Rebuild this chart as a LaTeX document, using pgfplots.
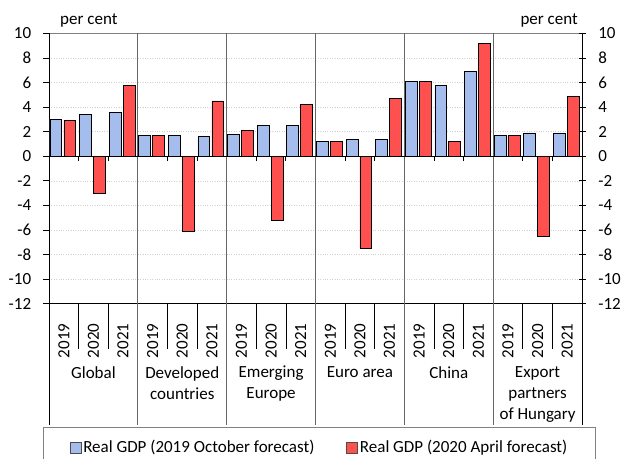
\documentclass[border=0pt]{standalone}
\usepackage{fontspec}
\setmainfont{Carlito}
\usepackage{pgfplots}
\usepackage{pgfplotstable}
\pgfplotsset{compat=1.18}

\definecolor{octfc}{HTML}{A4BDEC}
\definecolor{aprfc}{HTML}{FF5050}
\definecolor{framegray}{HTML}{808080}

% slot: 0-2 Global, 3-5 Developed, 6-8 Emerging Europe,
% 9-11 Euro area, 12-14 China, 15-17 Export partners (years 2019-2021)
\pgfplotstableread{
x  oct  apr
0  3.0  2.9
1  3.4  -3.0
2  3.6  5.8
3  1.7  1.7
4  1.7  -6.1
5  1.6  4.5
6  1.8  2.1
7  2.5  -5.2
8  2.5  4.2
9  1.2  1.2
10 1.4  -7.5
11 1.4  4.7
12 6.1  6.1
13 5.8  1.2
14 6.9  9.2
15 1.7  1.7
16 1.9  -6.5
17 1.9  4.9
}\gdptable

\begin{document}
\fontsize{17pt}{21pt}\selectfont
\begin{tikzpicture}
\begin{axis}[
  name=main,
  scale only axis, width=533pt, height=270pt,
  xmin=-0.5, xmax=17.5, ymin=-12, ymax=10,
  ytick={-12,-10,...,10}, ytick pos=left,
  xtick={0,...,17},
  xticklabels={2019,2020,2021,2019,2020,2021,2019,2020,2021,2019,2020,2021,2019,2020,2021,2019,2020,2021},
  xticklabel style={yshift=-14pt, rotate=90, anchor=east, inner sep=0pt},
  xtick style={draw=none},
  axis line style={draw=none},
  ymajorgrids, grid style={black!18, dotted},
  tick align=outside, major tick length=6pt,
  ytick style={black, line width=0.7pt},
  yticklabel style={xshift=-6pt},
  /pgf/number format/assume math mode=true,
  ybar, bar width=0.4,
  clip=false,
  legend columns=2,
  legend image code/.code={\draw[#1, draw=black!70, line width=0.6pt] (0pt,-5.5pt) rectangle (11pt,5.5pt);},
  legend style={at={(0.5,0)}, anchor=north, yshift=-123.5pt, xshift=4pt,
    draw=framegray, line width=0.9pt, inner xsep=26pt, inner ysep=11pt,
    /tikz/every even column/.append style={column sep=30pt},
    nodes={inner sep=2pt}},
]
% frame
\draw[framegray, line width=1.5pt] (axis cs:-0.5,10) -- (axis cs:17.5,10);
\draw[black, line width=0.7pt] (axis cs:-0.5,-12) -- (axis cs:17.5,-12);
\draw[black, line width=0.9pt] (axis cs:-0.5,10) -- ([yshift=-121.5pt]axis cs:-0.5,-12);
\draw[black, line width=0.9pt] (axis cs:17.5,10) -- ([yshift=-121.5pt]axis cs:17.5,-12);
% group separators
\pgfplotsinvokeforeach{2.5,5.5,8.5,11.5,14.5}{
  \draw[black!60, line width=1.1pt] (axis cs:#1,10) -- ([yshift=-121.5pt]axis cs:#1,-12);
}
% year separators below the plot and small ticks on the zero line
\pgfplotsinvokeforeach{0.5,1.5,3.5,4.5,6.5,7.5,9.5,10.5,12.5,13.5,15.5,16.5}{
  \draw[black, line width=0.6pt] (axis cs:#1,-12) -- ([yshift=-46pt]axis cs:#1,-12);
  \draw[black, line width=0.8pt] (axis cs:#1,0) -- ([yshift=-5pt]axis cs:#1,0);
}

\addplot[fill=octfc, draw=black, line width=0.6pt, bar shift=-0.27] table[x=x, y=oct]{\gdptable};
\addlegendentry{Real GDP (2019 October forecast)}
\addplot[fill=aprfc, draw=black, line width=0.6pt, bar shift=0.2] table[x=x, y=apr]{\gdptable};
\addlegendentry{Real GDP (2020 April forecast)}

% zero line
\draw[black, line width=0.9pt] (axis cs:-0.5,0) -- (axis cs:17.5,0);

% unit labels
\node[anchor=base west, inner sep=0pt] at ([xshift=11pt, yshift=9pt]rel axis cs:0,1) {per cent};
\node[anchor=base east, inner sep=0pt] at ([xshift=-4pt, yshift=9pt]rel axis cs:1,1) {per cent};

% group names
\node[anchor=north, align=center, inner sep=0pt] at ([yshift=-62.5pt]axis cs:1,-12) {Global};
\node[anchor=north, align=center, inner sep=0pt] at ([yshift=-62.5pt]axis cs:4,-12) {Developed\\countries};
\node[anchor=north, align=center, inner sep=0pt] at ([yshift=-62.5pt]axis cs:7,-12) {Emerging\\Europe};
\node[anchor=north, align=center, inner sep=0pt] at ([yshift=-62.5pt]axis cs:10,-12) {Euro area};
\node[anchor=north, align=center, inner sep=0pt] at ([yshift=-62.5pt]axis cs:13,-12) {China};
\node[anchor=north, align=center, inner sep=0pt] at ([yshift=-62.5pt]axis cs:16,-12) {Export\\partners\\of Hungary};

\coordinate (bl) at (rel axis cs:0,0);
\coordinate (tr) at (rel axis cs:1,1);
\end{axis}

\begin{axis}[
  scale only axis, width=533pt, height=270pt,
  xmin=-0.5, xmax=17.5, ymin=-12, ymax=10,
  axis x line=none, axis y line*=right,
  axis line style={black, line width=0.9pt},
  ytick={-12,-10,...,10},
  tick align=center, major tick length=7pt,
  ytick style={black, line width=0.7pt},
  yticklabel style={xshift=7pt},
  /pgf/number format/assume math mode=true,
]
\end{axis}

\pgfresetboundingbox
\path ([shift={(-49pt,-155.5pt)}]bl) rectangle ([shift={(39pt,33.5pt)}]tr);
\end{tikzpicture}
\end{document}
